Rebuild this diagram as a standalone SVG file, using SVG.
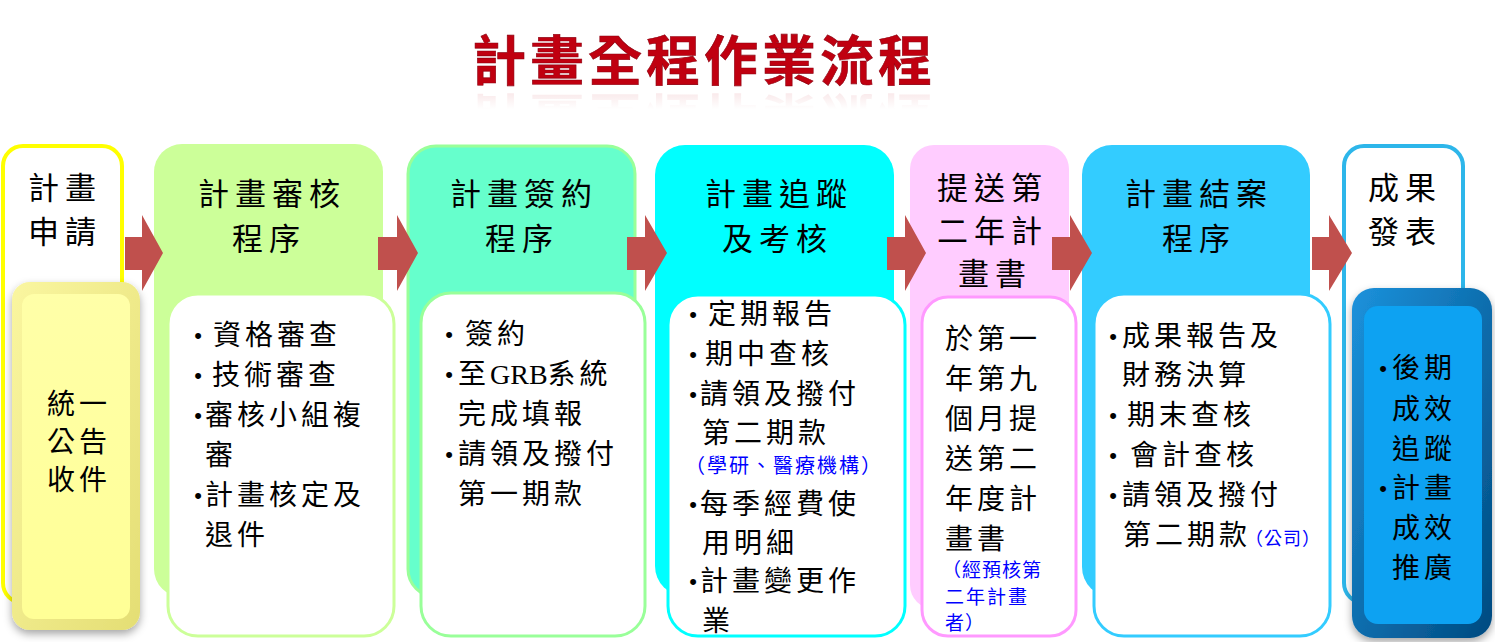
<svg xmlns="http://www.w3.org/2000/svg" width="1495" height="642" viewBox="0 0 1495 642">
<defs>
<style>
.t{font-family:"Noto Sans CJK TC","Noto Sans CJK SC",sans-serif;font-size:28px;letter-spacing:4px;fill:#000}
.h{font-family:"Noto Sans CJK TC","Noto Sans CJK SC",sans-serif;font-size:31px;letter-spacing:6px;fill:#000}
.b{font-family:"Liberation Sans",sans-serif;font-size:22px;fill:#000;text-anchor:middle}
.blue{font-family:"Noto Sans CJK TC","Noto Sans CJK SC",sans-serif;fill:#0000FF}
.arr{fill:#C0504D}
</style>
<filter id="sh" x="-20%" y="-10%" width="140%" height="130%">
<feDropShadow dx="0" dy="4" stdDeviation="4" flood-color="#000" flood-opacity="0.35"/>
</filter>
<linearGradient id="ybev" x1="0" y1="0" x2="1" y2="1">
<stop offset="0" stop-color="#FAF6A0"/>
<stop offset="1" stop-color="#E4DE74"/>
</linearGradient>
<linearGradient id="yface" x1="0" y1="0" x2="0" y2="1">
<stop offset="0" stop-color="#FFFFA8"/>
<stop offset="1" stop-color="#FFFF96"/>
</linearGradient>
<linearGradient id="bbev" x1="0" y1="0" x2="1" y2="1">
<stop offset="0" stop-color="#1C92DC"/>
<stop offset="1" stop-color="#004A80"/>
</linearGradient>
<linearGradient id="refl" gradientUnits="userSpaceOnUse" x1="0" y1="90" x2="0" y2="70">
<stop offset="0" stop-color="#FFFFFF" stop-opacity="0.7"/>
<stop offset="1" stop-color="#FFFFFF" stop-opacity="1"/>
</linearGradient>
<text id="ttl" x="704" y="81" text-anchor="middle" font-family="'Noto Sans CJK TC','Noto Sans CJK SC',sans-serif" font-size="54" font-weight="bold" letter-spacing="4">計畫全程作業流程</text>
</defs>
<rect width="1495" height="642" fill="#fff"/>

<g id="title">
<g transform="matrix(1,0,0,-1,0,179)">
<use href="#ttl" fill="#C00010" opacity="0.35"/>
<rect x="440" y="30" width="540" height="60" fill="url(#refl)"/>
</g>
<use href="#ttl" fill="#C00010" stroke="#8A0010" stroke-width="0.6"/>
</g>

<g id="node-apply">
<rect x="3" y="146" width="119" height="457" rx="20" fill="#fff" stroke="#FFFF00" stroke-width="4"/>
<text class="h" x="28" y="199">計畫</text>
<text class="h" x="28" y="243">申請</text>
<g filter="url(#sh)">
<rect x="12" y="282" width="128" height="348" rx="18" fill="url(#ybev)"/>
<rect x="22" y="294" width="108" height="325" rx="12" fill="url(#yface)"/>
</g>
<text class="t" x="47" y="414">統一</text>
<text class="t" x="47" y="452">公告</text>
<text class="t" x="47" y="490">收件</text>
</g>

<g id="node-review">
<rect x="154" y="144" width="229" height="453" rx="28" fill="#CCFF99"/>
<text class="h" x="198" y="205">計畫審核</text>
<text class="h" x="232" y="250">程序</text>
<rect x="168" y="294" width="226" height="342" rx="30" fill="#fff" stroke="#CCFF99" stroke-width="3"/>
<text class="b" x="198" y="343">•</text><text class="t" x="213" y="345">資格審查</text>
<text class="b" x="198" y="383">•</text><text class="t" x="212" y="385">技術審查</text>
<text class="b" x="198" y="423">•</text><text class="t" x="205" y="425">審核小組複</text>
<text class="t" x="205" y="465">審</text>
<text class="b" x="198" y="503">•</text><text class="t" x="205" y="505">計畫核定及</text>
<text class="t" x="205" y="545">退件</text>
</g>

<g id="node-sign">
<rect x="408" y="146" width="227" height="451" rx="28" fill="#66FFCC" stroke="#99FF99" stroke-width="3"/>
<text class="h" x="450" y="205">計畫簽約</text>
<text class="h" x="485" y="250">程序</text>
<rect x="421" y="293" width="224" height="343" rx="30" fill="#fff" stroke="#99FF99" stroke-width="3"/>
<text class="b" x="449" y="342">•</text><text class="t" x="465" y="344">簽約</text>
<text class="b" x="449" y="382">•</text><text class="t" x="458" y="384">至<tspan font-family="'Liberation Serif',serif" letter-spacing="0">GRB</tspan>系統</text>
<text class="t" x="458" y="424">完成填報</text>
<text class="b" x="449" y="462">•</text><text class="t" x="458" y="464">請領及撥付</text>
<text class="t" x="458" y="504">第一期款</text>
</g>

<g id="node-track">
<rect x="655" y="145" width="239" height="451" rx="30" fill="#00FFFF"/>
<text class="h" x="705" y="205">計畫追蹤</text>
<text class="h" x="722" y="250">及考核</text>
<rect x="668" y="295" width="237" height="341" rx="30" fill="#fff" stroke="#00FFFF" stroke-width="3"/>
<text class="b" x="693" y="322">•</text><text class="t" x="708" y="324">定期報告</text>
<text class="b" x="693" y="362">•</text><text class="t" x="705" y="364">期中查核</text>
<text class="b" x="693" y="402">•</text><text class="t" x="700" y="404">請領及撥付</text>
<text class="t" x="702" y="443">第二期款</text>
<text class="blue" x="685" y="473" font-size="20" letter-spacing="2">（學研、醫療機構）</text>
<text class="b" x="693" y="512">•</text><text class="t" x="700" y="514">每季經費使</text>
<text class="t" x="702" y="553">用明細</text>
<text class="b" x="693" y="589">•</text><text class="t" x="700" y="591">計畫變更作</text>
<text class="t" x="702" y="631">業</text>
</g>

<g id="node-second-year">
<rect x="910" y="145" width="159" height="464" rx="24" fill="#FFCCFF"/>
<text class="h" x="937" y="199" letter-spacing="4">提送第</text>
<text class="h" x="937" y="242" letter-spacing="4">二年計</text>
<text class="h" x="958" y="285" letter-spacing="4">畫書</text>
<rect x="922" y="297" width="154" height="339" rx="26" fill="#fff" stroke="#FF99FF" stroke-width="3"/>
<text class="t" x="945" y="349">於第一</text>
<text class="t" x="945" y="389">年第九</text>
<text class="t" x="945" y="429">個月提</text>
<text class="t" x="945" y="469">送第二</text>
<text class="t" x="945" y="509">年度計</text>
<text class="t" x="945" y="549">畫書</text>
<text class="blue" x="942" y="577" font-size="19" letter-spacing="1">（經預核第</text>
<text class="blue" x="945" y="604" font-size="19" letter-spacing="2">二年計畫</text>
<text class="blue" x="945" y="630" font-size="19" letter-spacing="1">者）</text>
</g>

<g id="node-close">
<rect x="1082" y="145" width="228" height="452" rx="30" fill="#33CCFF"/>
<text class="h" x="1125" y="205">計畫結案</text>
<text class="h" x="1162" y="250">程序</text>
<rect x="1094" y="294" width="236" height="342" rx="30" fill="#fff" stroke="#33CCFF" stroke-width="3"/>
<text class="b" x="1113" y="344">•</text><text class="t" x="1122" y="346">成果報告及</text>
<text class="t" x="1122" y="385">財務決算</text>
<text class="b" x="1113" y="423">•</text><text class="t" x="1127" y="425">期末查核</text>
<text class="b" x="1113" y="463">•</text><text class="t" x="1130" y="465">會計查核</text>
<text class="b" x="1113" y="503">•</text><text class="t" x="1122" y="505">請領及撥付</text>
<text class="t" x="1123" y="545">第二期款<tspan class="blue" font-size="18" letter-spacing="1" dx="-6">（公司）</tspan></text>
</g>

<g id="node-publish">
<rect x="1344" y="146" width="119" height="457" rx="20" fill="#fff" stroke="#2DB6EA" stroke-width="4"/>
<text class="h" x="1368" y="199">成果</text>
<text class="h" x="1368" y="243">發表</text>
<g filter="url(#sh)">
<rect x="1352" y="288" width="140" height="350" rx="22" fill="url(#bbev)"/>
<rect x="1364" y="306" width="118" height="318" rx="14" fill="#0AA2F2"/>
</g>
<text class="b" x="1383" y="376">•</text><text class="t" x="1392" y="378" letter-spacing="6">後期</text>
<text class="t" x="1392" y="419" letter-spacing="6">成效</text>
<text class="t" x="1392" y="459" letter-spacing="6">追蹤</text>
<text class="b" x="1383" y="496">•</text><text class="t" x="1392" y="498" letter-spacing="6">計畫</text>
<text class="t" x="1392" y="538" letter-spacing="6">成效</text>
<text class="t" x="1392" y="578" letter-spacing="6">推廣</text>
</g>

<g id="connectors">
<polygon class="arr" points="125,237 142,237 142,215 163,253 142,291 142,270 125,270"/>
<polygon class="arr" points="378,237 397,237 397,215 418,253 397,291 397,270 378,270"/>
<polygon class="arr" points="627,237 645,237 645,215 667,253 645,291 645,270 627,270"/>
<polygon class="arr" points="887,237 905,237 905,215 926,253 905,291 905,270 887,270"/>
<polygon class="arr" points="1052,237 1070,237 1070,215 1092,253 1070,291 1070,270 1052,270"/>
<polygon class="arr" points="1312,237 1329,237 1329,215 1352,253 1329,291 1329,270 1312,270"/>
</g>
</svg>
